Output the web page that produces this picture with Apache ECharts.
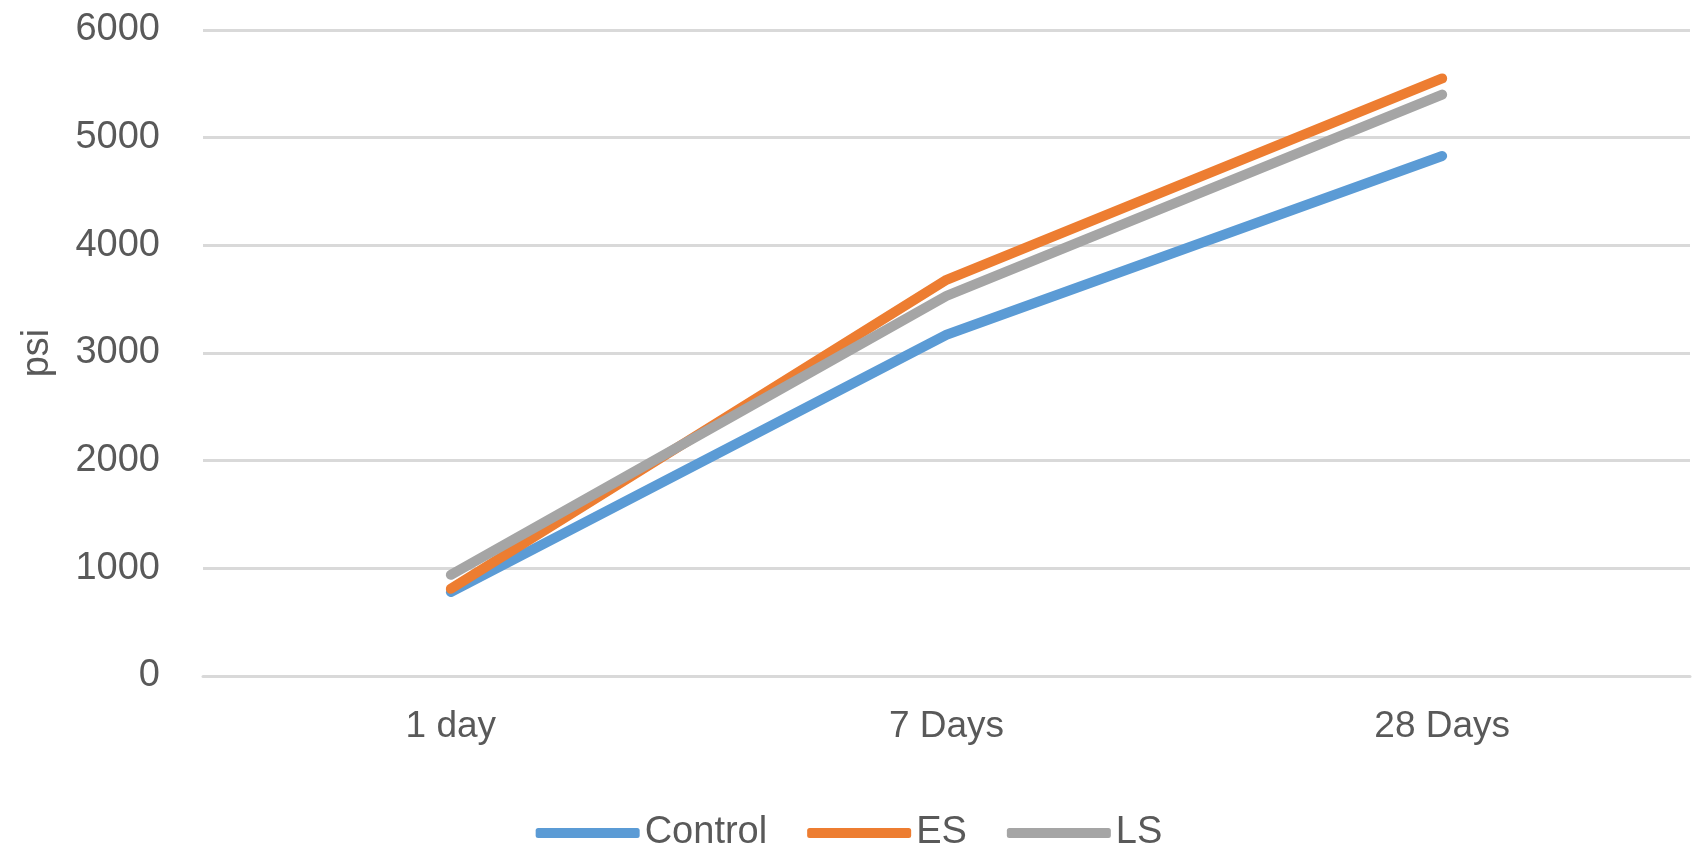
<!DOCTYPE html>
<html>
<head>
<meta charset="utf-8">
<script src="https://cdn.jsdelivr.net/npm/echarts@6/dist/echarts.min.js"></script>
<style>
html,body{margin:0;padding:0;background:#fff;}
#chart{width:1698px;height:849px;}
</style>
</head>
<body>
<div id="chart"></div>
<script>
var categories = ['1 day', '7 Days', '28 Days'];
var control = [780, 3170, 4830];
var es = [810, 3680, 5550];
var ls = [940, 3530, 5400];
var seriesNames = ['Control', 'ES', 'LS'];
var colors = ['#5B9BD5', '#ED7D31', '#A5A5A5'];

var chart = echarts.init(document.getElementById('chart'));
var font = '"Liberation Sans", Arial, sans-serif';
function line(name, data, color) {
  return {
    name: name, type: 'line', data: data,
    symbol: 'none',
    lineStyle: { width: 10, color: color, cap: 'round', join: 'round' },
    itemStyle: { color: color }
  };
}
chart.setOption({
  animation: false,
  color: colors,
  grid: { left: 203, right: 8, top: 30, bottom: 173 },
  legend: {
    left: 'center', top: 809,
    itemWidth: 104, itemHeight: 10, itemGap: 40,
    icon: 'roundRect',
    textStyle: { fontFamily: font, fontSize: 38, color: '#595959' },
    data: seriesNames
  },
  xAxis: {
    type: 'category', data: categories, boundaryGap: true,
    axisLine: { show: true, lineStyle: { color: '#D9D9D9', width: 3 } },
    axisTick: { show: false },
    axisLabel: { fontFamily: font, fontSize: 37, color: '#595959', margin: 32 }
  },
  yAxis: {
    type: 'value', min: 0, max: 6000, interval: 1000,
    name: 'psi', nameLocation: 'middle', nameGap: 146, nameRotate: 90,
    nameTextStyle: { fontFamily: font, fontSize: 38, color: '#595959' },
    axisLine: { show: false }, axisTick: { show: false },
    axisLabel: { fontFamily: font, fontSize: 38, color: '#595959', margin: 43,
      formatter: function (v) { return String(v); } },
    splitLine: { lineStyle: { color: '#D9D9D9', width: 3 } }
  },
  series: [
    line(seriesNames[0], control, colors[0]),
    line(seriesNames[1], es, colors[1]),
    line(seriesNames[2], ls, colors[2])
  ]
});
</script>
</body>
</html>
